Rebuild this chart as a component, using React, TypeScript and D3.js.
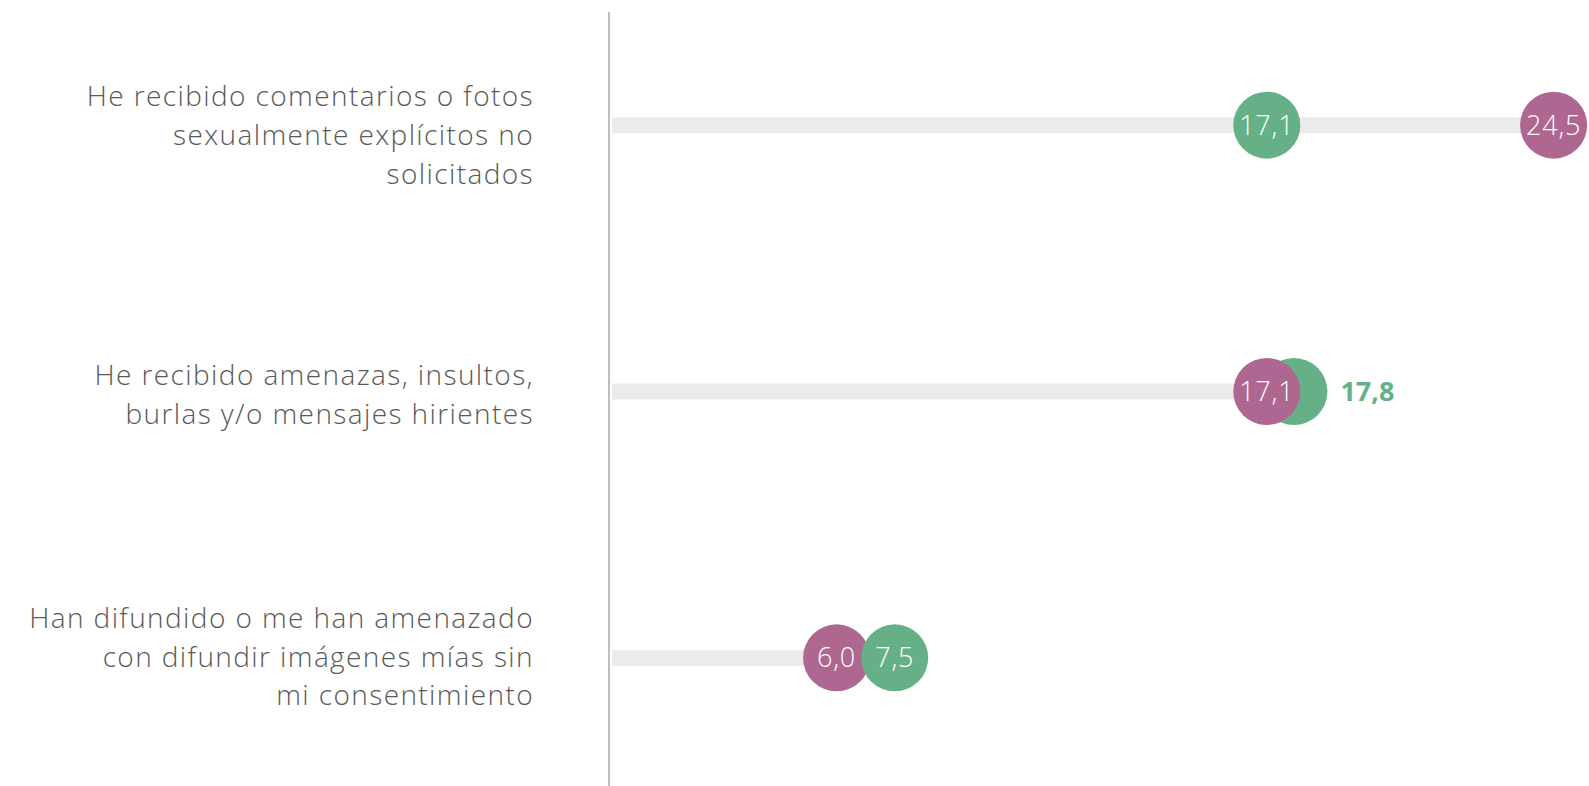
import React from 'react';
import {scaleLinear, scaleBand} from 'd3';

// categorías (líneas de etiqueta ya cortadas como en el original)
const categories = ['c1', 'c2', 'c3'];
const labelLines = [
    ['He recibido comentarios o fotos', 'sexualmente explícitos no', 'solicitados'],
    ['He recibido amenazas, insultos,', 'burlas y/o mensajes hirientes'],
    ['Han difundido o me han amenazado', 'con difundir imágenes mías sin', 'mi consentimiento'],
];
const seriesPurple = [24.5, 17.1, 6.0];
const seriesGreen = [17.1, 17.8, 7.5];

const W = 1589;
const H = 786;
const R = 33.5;
const PURPLE = '#AD6790';
const GREEN = '#66B087';
const FONT = '"Open Sans", "Noto Sans", sans-serif';

const fmt = (v: number) => v.toFixed(1).replace('.', ',');

const App = () => {
    const x = scaleLinear().domain([0, 25]).range([604, 1573]);
    const y = scaleBand().domain(categories).range([-8, 791]);
    const axisX = 609;
    const labelNudge = [10, 3, -1]; // ajuste vertical de las etiquetas

    return (
        <svg width={W} height={H} style={{position: 'absolute', left: 0, top: 0, display: 'block'}}>
            <line x1={axisX} x2={axisX} y1={12} y2={H} stroke="#BDBDBD" strokeWidth={2}/>
            {categories.map((c, i) => {
                const cy = y(c)! + y.bandwidth() / 2;
                const p = seriesPurple[i];
                const g = seriesGreen[i];
                const lines = labelLines[i];
                const lh = 38.7;
                const top = cy + labelNudge[i] - (lines.length - 1) * lh / 2;
                // si los círculos casi se tapan, el mayor va debajo y su valor afuera
                const close = Math.abs(x(p) - x(g)) < R * 1.2;
                const pts = [
                    {v: g, color: GREEN},
                    {v: p, color: PURPLE},
                ];
                const order = close ? [...pts].sort((a, b) => b.v - a.v) : (g > p ? [pts[1], pts[0]] : pts);
                return (
                    <g key={c}>
                        <text textAnchor="end" fill="#595959" fontFamily={FONT} fontWeight={300} fontSize={28}
                              letterSpacing={1.4}>
                            {lines.map((l, j) => (
                                <tspan key={j} x={534} y={top + j * lh} dy="0.35em">{l}</tspan>
                            ))}
                        </text>
                        <rect x={axisX + 3} y={cy - 8} width={x(Math.max(p, g)) - axisX - 3} height={16} fill="#EBEBEB"/>
                        {order.map((d, k) => (
                            <g key={k}>
                                <circle cx={x(d.v)} cy={cy} r={R} fill={d.color}/>
                                {!(close && k === 0) && (
                                    <text x={x(d.v)} y={cy} dy="0.35em" textAnchor="middle" fill="#fff"
                                          fontFamily={FONT} fontWeight={300} fontSize={27} letterSpacing={0.8}>{fmt(d.v)}</text>
                                )}
                                {close && k === 0 && (
                                    <text x={x(d.v) + R + 13} y={cy} dy="0.35em" fill={d.color}
                                          fontFamily={FONT} fontWeight={700} fontSize={27}>{fmt(d.v)}</text>
                                )}
                            </g>
                        ))}
                    </g>
                );
            })}
        </svg>
    );
};

export default App;
